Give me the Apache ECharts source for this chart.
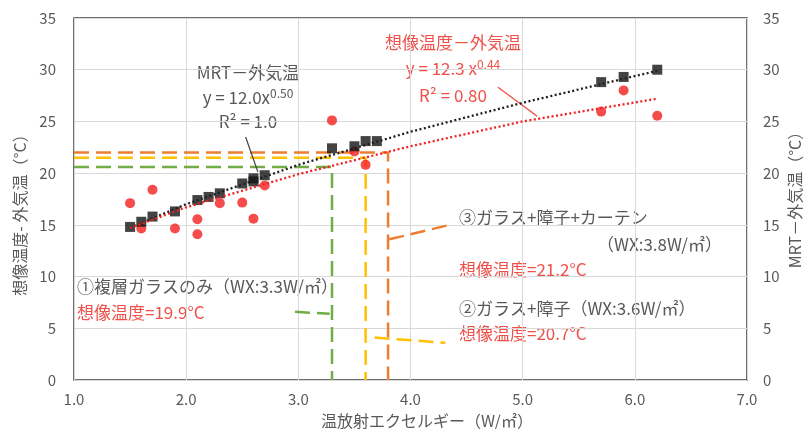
<!DOCTYPE html>
<html><head><meta charset="utf-8">
<script src="https://cdn.jsdelivr.net/npm/echarts@6/dist/echarts.min.js"></script>
<style>html,body{margin:0;padding:0;background:#fff}#c{width:805px;height:429px}</style>
</head><body><div id="c"></div>
<script>
// ---- data ----
const xTicks = [1, 2, 3, 4, 5, 6, 7];
const yTicks = [0, 5, 10, 15, 20, 25, 30, 35];
// MRT − 外気温 (black squares, right axis)
const mrtX = [1.5, 1.6, 1.7, 1.9, 2.1, 2.2, 2.3, 2.5, 2.6, 2.6, 2.7, 3.3, 3.5, 3.6, 3.7, 5.7, 5.9, 6.2];
const mrtY = [14.8, 15.3, 15.8, 16.3, 17.4, 17.7, 18.05, 19.0, 19.2, 19.5, 19.8, 22.4, 22.6, 23.1, 23.1, 28.8, 29.3, 30.0];
// 想像温度 − 外気温 (red circles, left axis)
const imgX = [1.5, 1.6, 1.7, 1.9, 2.1, 2.1, 2.3, 2.5, 2.6, 2.7, 3.3, 3.5, 3.6, 5.7, 5.9, 6.2];
const imgY = [17.1, 14.65, 18.4, 14.65, 15.55, 14.1, 17.1, 17.15, 15.6, 18.8, 25.1, 22.1, 20.8, 25.95, 28.0, 25.55];
// trend lines
const mrtTrendX = [1.5, 2.0, 3.0, 4.0, 5.0, 6.2];
const mrtTrendY = [14.7, 17.0, 20.8, 24.0, 26.8, 29.9];
const imgTrendX = [1.5, 2.0, 3.0, 4.0, 5.0, 6.2];
const imgTrendY = [14.7, 16.7, 19.9, 22.6, 25.0, 27.2];
// guide lines for the three cases (WX and level)
const caseWX = [3.3, 3.6, 3.8];
const caseLevel = [20.6, 21.5, 22.0];
// leader lines [x1,y1,x2,y2]
const leaderGreen = [2.97, 6.6, 3.28, 6.4];
const leaderYellow = [3.68, 4.1, 4.31, 3.6];
const leaderOrange = [3.81, 13.6, 4.37, 15.05];
const leaderBlack = [2.53, 23.5, 2.64, 20.1];
const leaderRed = [4.78, 28.3, 5.13, 25.5];

const FONT = "'Noto Sans CJK JP', 'Noto Sans', sans-serif";
const GRAY = '#595959';
const RED_T = '#F0504A';
const GREEN = '#70AD47', YELLOW = '#FFC000', ORANGE = '#ED7D31';
const DASH = [15, 7];

const zip = (xs, ys) => xs.map((x, i) => [x, ys[i]]);
const guide = i => [[1, caseLevel[i]], [caseWX[i], caseLevel[i]], [caseWX[i], 0]];
const seg = a => [[a[0], a[1]], [a[2], a[3]]];

function lineSeries(data, color, type, width, yIdx, z) {
  return { type: 'line', data, yAxisIndex: yIdx || 0, symbol: 'none', silent: true, z: z || 2,
    lineStyle: { color, type, width, cap: 'butt' }, animation: false };
}

const chart = echarts.init(document.getElementById('c'), null, { renderer: 'canvas' });
const yAxisBase = {
  type: 'value', min: 0, max: 35, interval: 5,
  axisLine: { show: false }, axisTick: { show: false },
  splitLine: { lineStyle: { color: '#D9D9D9', width: 1 } },
  axisLabel: { color: GRAY, fontSize: 15, fontFamily: FONT, margin: 18 }
};
const AF = '17px ' + FONT;
chart.setOption({
  animation: false,
  textStyle: { fontFamily: FONT },
  grid: { left: 74, right: 58, top: 18, bottom: 49, show: true, borderColor: '#404040', borderWidth: 1.5 },
  xAxis: {
    type: 'value', min: xTicks[0], max: xTicks[xTicks.length - 1], interval: 1,
    axisLine: { show: false }, axisTick: { show: false },
    splitLine: { lineStyle: { color: '#D9D9D9', width: 1 } },
    axisLabel: { color: GRAY, fontSize: 15, fontFamily: FONT, margin: 12, formatter: v => v.toFixed(1) }
  },
  yAxis: [Object.assign({}, yAxisBase), Object.assign({}, yAxisBase, { position: 'right', splitLine: { show: false }, axisLabel: Object.assign({}, yAxisBase.axisLabel, { margin: 16 }) })],
  series: [
    lineSeries(guide(0), GREEN, DASH, 2.5, 0, 2),
    lineSeries(guide(1), YELLOW, DASH, 2.5, 0, 2),
    lineSeries(guide(2), ORANGE, DASH, 2.5, 0, 2),
    lineSeries(seg(leaderGreen), GREEN, DASH, 2.5, 0, 2),
    lineSeries(seg(leaderYellow), YELLOW, DASH, 2.5, 0, 2),
    lineSeries(seg(leaderOrange), ORANGE, DASH, 2.5, 0, 2),
    lineSeries(seg(leaderBlack), '#404040', 'solid', 1.2, 0, 2),
    lineSeries(seg(leaderRed), '#F0504A', 'solid', 1.4, 0, 2),
    { type: 'scatter', name: '想像温度－外気温', data: zip(imgX, imgY), yAxisIndex: 0, symbol: 'circle', symbolSize: 10,
      itemStyle: { color: '#F21F1F' }, z: 3 },
    { type: 'scatter', name: 'MRT－外気温', data: zip(mrtX, mrtY), yAxisIndex: 1, symbol: 'rect', symbolSize: 10,
      itemStyle: { color: '#141414' }, z: 4 },
    lineSeries(zip(mrtTrendX, mrtTrendY), '#1f1f1f', [2, 2.5], 2.3, 1, 5),
    lineSeries(zip(imgTrendX, imgTrendY), '#F21F1F', [2, 2.5], 2.3, 0, 5)
  ],
  graphic: [
    // axis names
    { type: 'text', x: 20, y: 211, rotation: Math.PI / 2, style: { text: '想像温度- 外気温（°C）', font: '16px ' + FONT, fill: GRAY, textAlign: 'center', textVerticalAlign: 'middle' } },
    { type: 'text', x: 795, y: 196, rotation: Math.PI / 2, style: { text: 'MRT－外気温（°C）', font: '16px ' + FONT, fill: GRAY, textAlign: 'center', textVerticalAlign: 'middle' } },
    { type: 'text', x: 427, y: 421, style: { text: '温放射エクセルギー（W/㎡）', font: '16px ' + FONT, fill: GRAY, textAlign: 'center', textVerticalAlign: 'middle' } },
    // MRT trend label
    { type: 'text', x: 248, y: 73, style: { text: 'MRT－外気温', font: AF, fill: GRAY, textAlign: 'center', textVerticalAlign: 'middle' } },
    { type: 'text', x: 248, y: 98, style: { text: '{a|y = 12.0x}{s|0.50}', textAlign: 'center', textVerticalAlign: 'middle',
      rich: { a: { fontSize: 17, fontFamily: FONT, fill: GRAY, color: GRAY }, s: { fontSize: 12, fontFamily: FONT, color: GRAY, fill: GRAY, padding: [0, 0, 9, 0] } } } },
    { type: 'text', x: 248, y: 122, style: { text: 'R² = 1.0', font: AF, fill: GRAY, textAlign: 'center', textVerticalAlign: 'middle' } },
    // image temperature trend label
    { type: 'text', x: 453, y: 43, style: { text: '想像温度－外気温', font: AF, fill: RED_T, textAlign: 'center', textVerticalAlign: 'middle' } },
    { type: 'text', x: 453, y: 69, style: { text: '{a|y = 12.3 x}{s|0.44}', textAlign: 'center', textVerticalAlign: 'middle',
      rich: { a: { fontSize: 17, fontFamily: FONT, color: RED_T, fill: RED_T }, s: { fontSize: 12, fontFamily: FONT, color: RED_T, fill: RED_T, padding: [0, 0, 9, 0] } } } },
    { type: 'text', x: 453, y: 96, style: { text: 'R² = 0.80', font: AF, fill: RED_T, textAlign: 'center', textVerticalAlign: 'middle' } },
    // case labels
    { type: 'text', x: 77, y: 287, style: { text: '①複層ガラスのみ（WX:3.3W/㎡）', font: AF, fill: GRAY, textVerticalAlign: 'middle' } },
    { type: 'text', x: 77, y: 313, style: { text: '想像温度=19.9°C', font: AF, fill: RED_T, textVerticalAlign: 'middle' } },
    { type: 'text', x: 459, y: 218, style: { text: '③ガラス+障子+カーテン', font: AF, fill: GRAY, textVerticalAlign: 'middle' } },
    { type: 'text', x: 722, y: 245, style: { text: '（WX:3.8W/㎡）', font: AF, fill: GRAY, textAlign: 'right', textVerticalAlign: 'middle' } },
    { type: 'text', x: 459, y: 270, style: { text: '想像温度=21.2°C', font: AF, fill: RED_T, textVerticalAlign: 'middle' } },
    { type: 'text', x: 459, y: 309, style: { text: '②ガラス+障子（WX:3.6W/㎡）', font: AF, fill: GRAY, textVerticalAlign: 'middle' } },
    { type: 'text', x: 459, y: 334, style: { text: '想像温度=20.7°C', font: AF, fill: RED_T, textVerticalAlign: 'middle' } }
  ]
});
</script>
</body></html>
